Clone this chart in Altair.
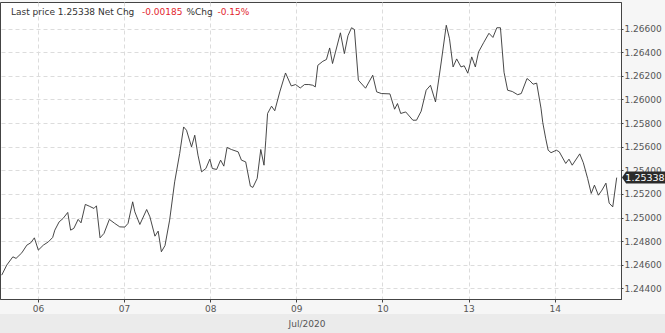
import altair as alt
import pandas as pd

# hours since start of window (day ticks every 24 h)
hours = [-0.1, 1.3, 3.0, 3.9, 5.5, 6.9, 8.0, 9.0, 10.1, 11.5,
         12.9, 14.1, 14.7, 15.9, 17.0, 18.3, 19.1, 20.0, 21.2, 22.0,
         23.2, 24.3, 25.6, 26.3, 27.3, 28.4, 29.9, 31.4, 32.8, 34.2,
         35.1, 36.4, 37.0, 38.4, 40.3, 41.2, 42.6, 43.5, 44.4, 45.4,
         46.7, 48.1, 49.5, 50.6, 51.4, 52.8, 53.7, 54.6, 55.6, 56.8,
         57.9, 58.6, 59.8, 60.9, 61.8, 62.7, 63.9, 65.8, 66.7, 67.9,
         69.2, 69.9, 71.1, 72.1, 73.0, 73.5, 74.0, 75.1, 76.0, 77.4,
         79.0, 80.6, 81.8, 83.1, 84.3, 85.5, 86.6, 87.3, 88.0, 89.4,
         90.4, 91.3, 92.1, 94.3, 95.4, 96.4, 97.4, 98.2, 99.3, 101.3,
         103.3, 104.4, 105.7, 108.1, 109.4, 110.2, 111.1, 112.5, 114.5, 115.5,
         116.8, 118.2, 119.4, 120.8, 122.4, 123.8, 124.7, 125.7, 126.7, 127.9,
         128.8, 129.8, 130.9, 131.9, 132.8, 134.2, 135.7, 136.8, 137.9, 138.9,
         139.9, 140.9, 142.2, 143.7, 144.7, 146.3, 147.1, 148.0, 149.0, 150.2,
         150.7, 151.5, 152.2, 153.0, 154.5, 155.3, 157.1, 158.0, 158.9, 161.0,
         162.0, 163.2, 164.2, 165.1, 166.2, 167.2, 168.3, 169.2, 170.2, 171.3]

prices = [1.24512, 1.24597, 1.24667, 1.24654, 1.24701, 1.24766, 1.24786, 1.24828, 1.24724, 1.24766,
          1.24794, 1.24831, 1.24893, 1.24963, 1.24992, 1.25043, 1.24893, 1.24908, 1.24984, 1.24955,
          1.25111, 1.25096, 1.25077, 1.25099, 1.24828, 1.24865, 1.24984, 1.24950, 1.24921, 1.24919,
          1.24950, 1.25133, 1.25048, 1.24941, 1.25068, 1.25006, 1.24842, 1.24885, 1.24710, 1.24762,
          1.24978, 1.25302, 1.25542, 1.25767, 1.25739, 1.25598, 1.25697, 1.25528, 1.25387, 1.25415,
          1.25494, 1.25415, 1.25407, 1.25486, 1.25435, 1.25593, 1.25576, 1.25556, 1.25486, 1.25471,
          1.25266, 1.25255, 1.25331, 1.25576, 1.25443, 1.25655, 1.25881, 1.25943, 1.25904, 1.26064,
          1.26224, 1.26114, 1.26126, 1.26097, 1.26126, 1.26126, 1.26120, 1.26106, 1.26289, 1.26323,
          1.26338, 1.26436, 1.26304, 1.26564, 1.26388, 1.26539, 1.26607, 1.26592, 1.26163, 1.26095,
          1.26205, 1.26064, 1.26050, 1.26047, 1.25917, 1.25965, 1.25881, 1.25894, 1.25824, 1.25824,
          1.25900, 1.26078, 1.26120, 1.25979, 1.26317, 1.26628, 1.26514, 1.26275, 1.26343, 1.26275,
          1.26285, 1.26222, 1.26360, 1.26275, 1.26402, 1.26480, 1.26560, 1.26525, 1.26607, 1.26607,
          1.26230, 1.26078, 1.26067, 1.26040, 1.26050, 1.26177, 1.26158, 1.26129, 1.26138, 1.25926,
          1.25803, 1.25672, 1.25570, 1.25549, 1.25570, 1.25556, 1.25458, 1.25494, 1.25443, 1.25539,
          1.25464, 1.25331, 1.25204, 1.25274, 1.25189, 1.25232, 1.25291, 1.25122, 1.25090, 1.25338]

day_ticks = [10, 34, 58, 82, 106, 130, 154]
day_labels = ["06", "07", "08", "09", "10", "13", "14"]
price_ticks = [1.244, 1.246, 1.248, 1.250, 1.252, 1.254, 1.256, 1.258, 1.260, 1.262, 1.264, 1.266]

last_price = "1.25338"
net_chg = "-0.00185"
pct_chg = "-0.15%"
month_label = "Jul/2020"

df = pd.DataFrame({"t": hours, "price": prices})
last_df = pd.DataFrame({"t": [hours[-1]], "price": [prices[-1]], "label": [last_price]})

FONT = "DejaVu Sans"
label_expr = "[" + ",".join(f"'{l}'" for l in day_labels) + "][indexof([" + \
    ",".join(str(v) for v in day_ticks) + "], datum.value)]"

x_scale = alt.Scale(domain=[-0.58, 172.5], nice=False, zero=False)
y_scale = alt.Scale(domain=[1.2431, 1.26825], nice=False, zero=False)

x_axis = alt.Axis(values=day_ticks, labelExpr=label_expr, title=None,
                  grid=True, gridDash=[4, 3], gridColor="#dcdcdc",
                  domainColor="#444", tickColor="#444", tickSize=3,
                  labelOverlap=False,
                  labelFont=FONT, labelFontSize=9, labelColor="#555", labelPadding=2)
y_axis = alt.Axis(orient="right", values=price_ticks, format=".5f", title=None,
                  grid=True, gridDash=[4, 3], gridColor="#dcdcdc",
                  domainColor="#444", tickColor="#444", tickSize=2,
                  labelOverlap=False, labelFlush=False,
                  labelFont=FONT, labelFontSize=9, labelColor="#555", labelPadding=1)

Y = alt.Y("price:Q", scale=y_scale, axis=y_axis)

band = alt.Chart(pd.DataFrame({"a": [0]})).mark_rect(color="#ebebeb").encode(
    x=alt.value(-5), x2=alt.value(670), y=alt.value(312), y2=alt.value(340))

line = alt.Chart(df).mark_line(color="#333", strokeWidth=0.9).encode(
    x=alt.X("t:Q", scale=x_scale, axis=x_axis),
    y=Y,
)

tag_path = "M-1,0L-0.81,-0.28L1,-0.28L1,0.28L-0.81,0.28Z"
tag = alt.Chart(last_df).mark_point(shape=tag_path, filled=True, color="#2b2b2b",
                                    opacity=1, size=1849).encode(
    x=alt.value(643.5), y=Y)
tag_text = alt.Chart(last_df).mark_text(color="white", font=FONT, fontSize=9.5,
                                        align="center", baseline="middle").encode(
    x=alt.value(645), y=Y, text="label:N")

def txt(s, xpos, color):
    return alt.Chart(pd.DataFrame({"s": [s]})).mark_text(
        font=FONT, fontSize=9, color=color, align="left", baseline="middle").encode(
        x=alt.value(xpos), y=alt.value(10), text="s:N")

t1 = txt("Last price " + last_price + " Net Chg", 11, "#333")
t2 = txt(net_chg, 142, "#e3262d")
t3 = txt("%Chg", 186.5, "#333")
t4 = txt(pct_chg, 217.5, "#e3262d")

month = alt.Chart(pd.DataFrame({"s": [month_label]})).mark_text(
    font=FONT, fontSize=9, color="#555", align="center", baseline="middle").encode(
    x=alt.value(307), y=alt.value(322), text="s:N")

chart = alt.layer(band, line, tag, tag_text, t1, t2, t3, t4, month).properties(
    width=621, height=297,
    autosize=alt.AutoSizeParams(type="none"),
    padding={"left": 0, "top": 2, "right": 44, "bottom": 34},
    background="#f6f6f6",
).configure_view(fill="white", stroke="#444", strokeWidth=1)

chart.save("out.html", embed_options={"renderer": "svg", "actions": False})
